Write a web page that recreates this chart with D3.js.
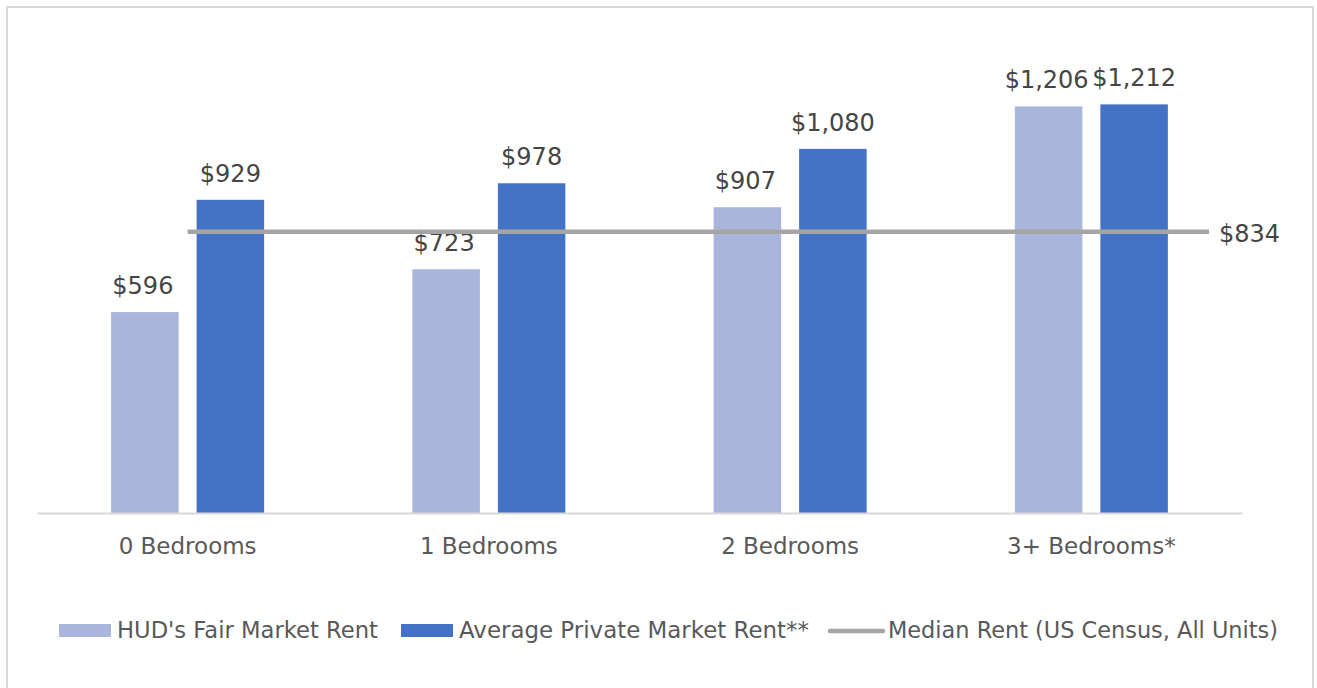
<!DOCTYPE html>
<html>
<head>
<meta charset="utf-8">
<script src="https://cdn.jsdelivr.net/npm/d3@7"></script>
<style>
  html, body { margin: 0; padding: 0; background: #fff; }
  svg text { font-family: "DejaVu Sans", "Liberation Sans", sans-serif; fill: #404040; }
</style>
</head>
<body>
<div id="chart"></div>
<script>
// Chart data
const categories = ["0 Bedrooms", "1 Bedrooms", "2 Bedrooms", "3+ Bedrooms*"];
const hudFairMarketRent = [596, 723, 907, 1206];
const avgPrivateMarketRent = [929, 978, 1080, 1212];
const medianRent = 834;
const seriesNames = ["HUD's Fair Market Rent", "Average Private Market Rent**", "Median Rent (US Census, All Units)"];

const colors = { hud: "#a9b5db", private: "#4472c4", median: "#a5a5a5" };

const width = 1317;
const height = 688;
const margin = { top: 41, right: 75, bottom: 175, left: 37 };

const svg = d3.select("#chart").append("svg").attr("width", width).attr("height", height);

// Outer frame (chart area border)
svg.append("rect")
  .attr("x", 7).attr("y", 7)
  .attr("width", 1306).attr("height", 700)
  .attr("fill", "none")
  .attr("stroke", "#d9d9d9")
  .attr("stroke-width", 2);

// Scales
const x = d3.scaleBand().domain(categories).range([margin.left, width - margin.right]);
const y = d3.scaleLinear().domain([0, 1400]).range([height - margin.bottom, margin.top]);

const barW = 67.5;
const barGap = 18;
const series = [
  { key: "hud", values: hudFairMarketRent, offset: -barGap / 2 - barW },
  { key: "private", values: avgPrivateMarketRent, offset: barGap / 2 }
];

// Bars + value labels
series.forEach((s) => {
  svg.append("g")
    .attr("fill", colors[s.key])
    .selectAll("rect")
    .data(categories)
    .join("rect")
    .attr("x", (d) => x(d) + x.bandwidth() / 2 + s.offset)
    .attr("y", (d, i) => y(s.values[i]))
    .attr("width", barW)
    .attr("height", (d, i) => y(0) - y(s.values[i]));

  svg.append("g")
    .selectAll("text")
    .data(categories)
    .join("text")
    .attr("x", (d) => x(d) + x.bandwidth() / 2 + s.offset + barW / 2 + (s.key === "hud" ? -2 : 0))
    .attr("y", (d, i) => y(s.values[i]) - 18)
    .attr("text-anchor", "middle")
    .attr("font-size", 24)
    .style("fill", "#454545")
    .text((d, i) => d3.format("$,")(s.values[i]));
});

// X axis
const xAxis = svg.append("g")
  .attr("transform", `translate(0,${y(0)})`)
  .call(d3.axisBottom(x).tickSize(0).tickPadding(0));
xAxis.select(".domain").attr("stroke", "#d9d9d9").attr("stroke-width", 2);
xAxis.selectAll(".tick text")
  .attr("dy", 0)
  .attr("y", 41)
  .attr("font-size", 23)
  .attr("font-family", "DejaVu Sans, sans-serif")
  .style("fill", "#595959");

// Median line
const lineX0 = x(categories[0]) + x.bandwidth() / 2;
const lineX1 = x.range()[1] - 33;
svg.append("line")
  .attr("x1", lineX0).attr("x2", lineX1)
  .attr("y1", y(medianRent)).attr("y2", y(medianRent))
  .attr("stroke", colors.median)
  .attr("stroke-width", 4.5);
svg.append("text")
  .attr("x", lineX1 + 10)
  .attr("y", y(medianRent) + 10)
  .attr("font-size", 24)
  .style("fill", "#454545")
  .text(d3.format("$,")(medianRent));

// Legend
const legendY = 631;
const legendItems = [
  { name: seriesNames[0], color: colors.hud, type: "rect", x: 59, textW: 261 },
  { name: seriesNames[1], color: colors.private, type: "rect", x: 401, textW: 350 },
  { name: seriesNames[2], color: colors.median, type: "line", x: 830, textW: 390 }
];
const legend = svg.append("g");
legendItems.forEach((it) => {
  if (it.type === "rect") {
    legend.append("rect")
      .attr("x", it.x).attr("y", legendY - 7)
      .attr("width", 52).attr("height", 13)
      .attr("fill", it.color);
  } else {
    legend.append("line")
      .attr("x1", it.x).attr("x2", it.x + 53)
      .attr("y1", legendY).attr("y2", legendY)
      .attr("stroke", it.color)
      .attr("stroke-width", 4.5)
      .attr("stroke-linecap", "round");
  }
  legend.append("text")
    .attr("x", it.x + 58)
    .attr("y", legendY + 7)
    .attr("font-size", 23)
    .attr("textLength", it.textW)
    .attr("lengthAdjust", "spacingAndGlyphs")
    .style("fill", "#595959")
    .text(it.name);
});
</script>
</body>
</html>
